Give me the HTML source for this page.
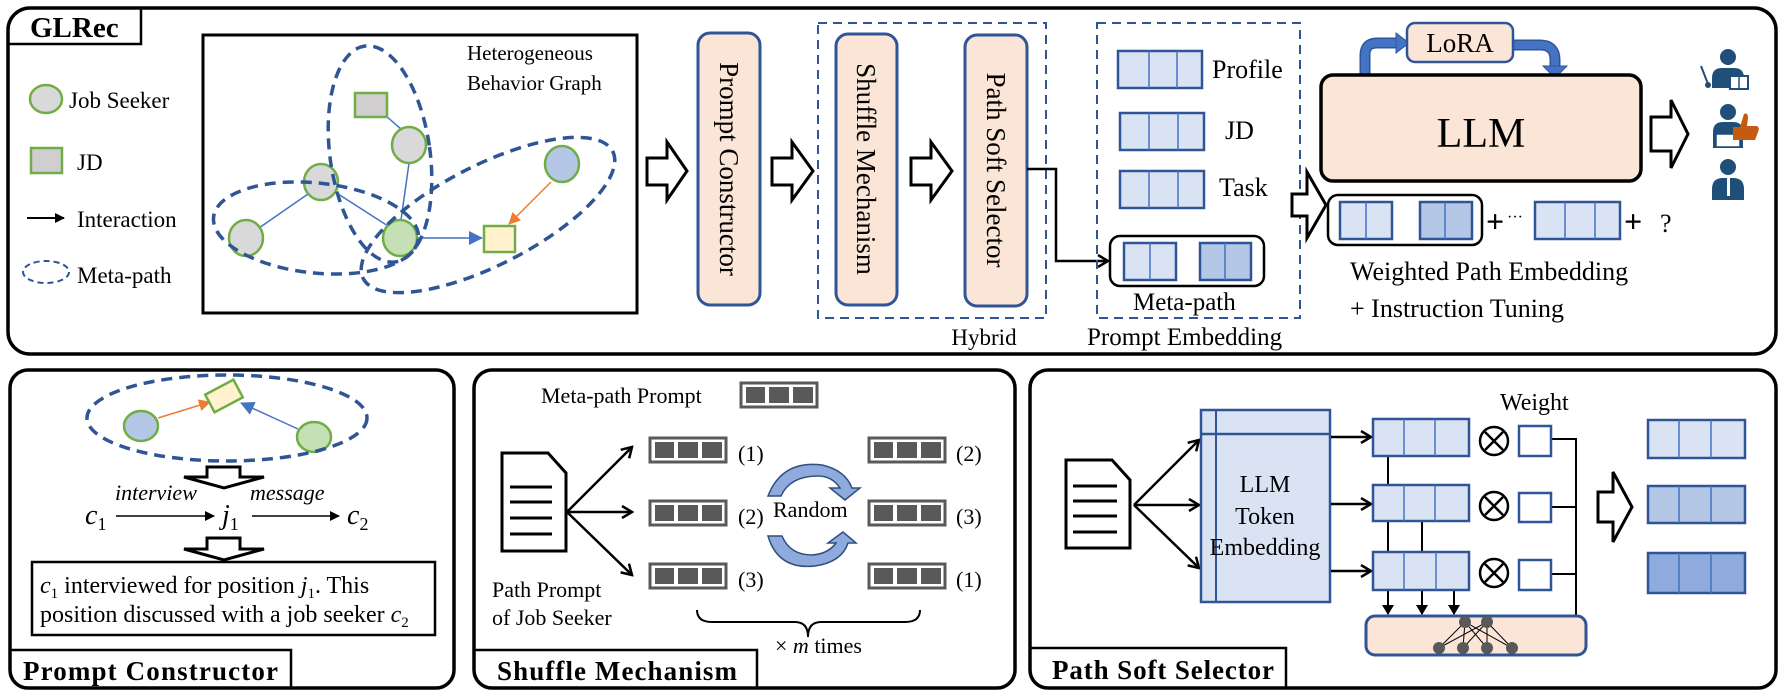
<!DOCTYPE html>
<html><head><meta charset="utf-8"><style>
html,body{margin:0;padding:0;background:#fff;}
svg{display:block;}
text{font-family:"Liberation Serif",serif;fill:#000;}
</style></head><body>
<svg width="1783" height="694" viewBox="0 0 1783 694" xmlns="http://www.w3.org/2000/svg">
<defs>
<marker id="ab" markerWidth="10" markerHeight="10" refX="9" refY="5" orient="auto" markerUnits="userSpaceOnUse"><path d="M0,0 L10,5 L0,10 z" fill="#000"/></marker>
<marker id="ao" markerWidth="12" markerHeight="12" refX="11" refY="6" orient="auto" markerUnits="userSpaceOnUse"><path d="M0,0 L12,6 L0,12 z" fill="#ed7d31"/></marker>
<marker id="abl" markerWidth="14" markerHeight="14" refX="13" refY="7" orient="auto" markerUnits="userSpaceOnUse"><path d="M0,0 L14,7 L0,14 z" fill="#4472c4"/></marker>
<marker id="op" markerWidth="14" markerHeight="14" refX="12" refY="7" orient="auto" markerUnits="userSpaceOnUse"><path d="M2,1 L12,7 L2,13" fill="none" stroke="#000" stroke-width="2.5"/></marker>
<marker id="tri" markerWidth="10" markerHeight="12" refX="9" refY="6" orient="auto" markerUnits="userSpaceOnUse"><path d="M0,0 L10,6 L0,12 z" fill="#000"/></marker>
</defs>

<!-- TOP PANEL -->
<rect x="8" y="8" width="1768" height="346" rx="22" fill="#fff" stroke="#000" stroke-width="3.5"/>
<path d="M8,44 L141,44 L141,8" fill="none" stroke="#000" stroke-width="2.5"/>
<text x="30" y="37" font-size="29" font-weight="bold">GLRec</text>

<!-- legend -->
<ellipse cx="46" cy="99" rx="16" ry="14" fill="#d9d9d9" stroke="#70ad47" stroke-width="2.5"/>
<text x="69" y="108" font-size="23">Job Seeker</text>
<rect x="31" y="148" width="31" height="25" fill="#d0cece" stroke="#70ad47" stroke-width="2.5"/>
<text x="77" y="170" font-size="23">JD</text>
<line x1="27" y1="218" x2="64" y2="218" stroke="#000" stroke-width="2" marker-end="url(#ab)"/>
<text x="77" y="227" font-size="23">Interaction</text>
<ellipse cx="46" cy="272" rx="23" ry="11" fill="none" stroke="#2f5597" stroke-width="2" stroke-dasharray="6,4"/>
<text x="77" y="283" font-size="23">Meta-path</text>

<!-- graph -->
<rect x="203" y="35" width="434" height="278" fill="none" stroke="#000" stroke-width="3"/>
<text x="467" y="60" font-size="21">Heterogeneous</text>
<text x="467" y="90" font-size="21">Behavior Graph</text>
<line x1="385" y1="115" x2="402" y2="130" stroke="#4472c4" stroke-width="1.5"/>
<line x1="409" y1="163" x2="401" y2="220" stroke="#4472c4" stroke-width="1.5"/>
<line x1="308" y1="194" x2="259" y2="228" stroke="#4472c4" stroke-width="1.5"/>
<line x1="335" y1="192" x2="388" y2="226" stroke="#4472c4" stroke-width="1.5"/>
<line x1="418" y1="238" x2="482" y2="238" stroke="#4472c4" stroke-width="1.5" marker-end="url(#abl)"/>
<line x1="551" y1="182" x2="509" y2="224" stroke="#ed7d31" stroke-width="1.5" marker-end="url(#ao)"/>
<rect x="355" y="93" width="32" height="24" fill="#d0cece" stroke="#70ad47" stroke-width="2.5"/>
<ellipse cx="409" cy="145" rx="17" ry="18" fill="#d9d9d9" stroke="#70ad47" stroke-width="2.5"/>
<ellipse cx="321" cy="182" rx="17" ry="18" fill="#d9d9d9" stroke="#70ad47" stroke-width="2.5"/>
<ellipse cx="246" cy="238" rx="17" ry="18" fill="#d9d9d9" stroke="#70ad47" stroke-width="2.5"/>
<ellipse cx="400" cy="238" rx="17" ry="18" fill="#c5e0b4" stroke="#70ad47" stroke-width="2.5"/>
<ellipse cx="562" cy="164" rx="17" ry="18" fill="#b4c7e7" stroke="#70ad47" stroke-width="2.5"/>
<rect x="484" y="226" width="31" height="26" fill="#fff2cc" stroke="#70ad47" stroke-width="2.5"/>
<g fill="none" stroke="#2f5597" stroke-width="3.5" stroke-dasharray="11,7">
<ellipse cx="380" cy="154" rx="50" ry="109" transform="rotate(-8 380 154)"/>
<ellipse cx="316" cy="228" rx="103" ry="45" transform="rotate(6 316 228)"/>
<ellipse cx="488" cy="215" rx="140" ry="50" transform="rotate(-27 488 215)"/>
</g>

<!-- block arrows -->
<g fill="#fff" stroke="#000" stroke-width="3">
<path d="M647,158 L667,158 L667,142 L687,171 L667,200 L667,185 L647,185 Z"/>
<path d="M772,158 L792,158 L792,142 L813,171 L792,200 L792,185 L772,185 Z"/>
<path d="M911,158 L931,158 L931,142 L952,171 L931,200 L931,185 L911,185 Z"/>
</g>

<!-- prompt constructor vertical -->
<rect x="698" y="33" width="62" height="272" rx="12" fill="#fbe5d6" stroke="#2f5597" stroke-width="3"/>
<text transform="translate(729,169) rotate(90)" text-anchor="middle" dominant-baseline="central" font-size="27">Prompt Constructor</text>
<rect x="818" y="23" width="228" height="295" fill="none" stroke="#2f5597" stroke-width="2" stroke-dasharray="9,6"/>
<rect x="836" y="34" width="61" height="271" rx="12" fill="#fbe5d6" stroke="#2f5597" stroke-width="3"/>
<text transform="translate(866,169) rotate(90)" text-anchor="middle" dominant-baseline="central" font-size="27">Shuffle Mechanism</text>
<rect x="965" y="35" width="62" height="271" rx="12" fill="#fbe5d6" stroke="#2f5597" stroke-width="3"/>
<text transform="translate(996,170) rotate(90)" text-anchor="middle" dominant-baseline="central" font-size="27">Path Soft Selector</text>
<text x="984" y="345" font-size="23" text-anchor="middle">Hybrid</text>
<polyline points="1027,169 1056,169 1056,261 1108,261" fill="none" stroke="#000" stroke-width="2.5" marker-end="url(#op)"/>

<!-- prompt embedding -->
<rect x="1097" y="23" width="203" height="295" fill="none" stroke="#2f5597" stroke-width="2" stroke-dasharray="9,6"/>
<g stroke="#2f5597" stroke-width="2.5" fill="#dae3f3">
<rect x="1118" y="51" width="84" height="37"/>
<rect x="1120" y="113" width="84" height="37"/>
<rect x="1120" y="171" width="84" height="37"/>
</g>
<g stroke="#4472c4" stroke-width="1.5">
<line x1="1149" y1="51" x2="1149" y2="88"/><line x1="1177" y1="51" x2="1177" y2="88"/>
<line x1="1149" y1="113" x2="1149" y2="150"/><line x1="1178" y1="113" x2="1178" y2="150"/>
<line x1="1149" y1="171" x2="1149" y2="208"/><line x1="1178" y1="171" x2="1178" y2="208"/>
</g>
<text x="1212" y="78" font-size="26">Profile</text>
<text x="1225" y="139" font-size="26">JD</text>
<text x="1219" y="196" font-size="26">Task</text>
<rect x="1110" y="236" width="154" height="50" rx="10" fill="#fff" stroke="#000" stroke-width="2.5"/>
<rect x="1124" y="243" width="52" height="37" fill="#dae3f3" stroke="#2f5597" stroke-width="2.5"/>
<line x1="1150" y1="243" x2="1150" y2="280" stroke="#4472c4" stroke-width="1.5"/>
<rect x="1200" y="243" width="51" height="37" fill="#b4c7e7" stroke="#2f5597" stroke-width="2.5"/>
<line x1="1225" y1="243" x2="1225" y2="280" stroke="#4472c4" stroke-width="1.5"/>
<text x="1133" y="310" font-size="25">Meta-path</text>
<text x="1087" y="345" font-size="25">Prompt Embedding</text>

<!-- LLM -->
<path d="M1365,76 L1365,55 Q1365,43 1377,43 L1398,43" fill="none" stroke="#2f5597" stroke-width="11"/>
<path d="M1365,76 L1365,55 Q1365,43 1377,43 L1398,43" fill="none" stroke="#4472c4" stroke-width="8"/>
<path d="M1396,33 L1409,43 L1396,53 Z" fill="#4472c4" stroke="#2f5597" stroke-width="1"/>
<path d="M1512,45 L1540,45 Q1555,45 1555,60 L1555,68" fill="none" stroke="#2f5597" stroke-width="11"/>
<path d="M1512,45 L1540,45 Q1555,45 1555,60 L1555,68" fill="none" stroke="#4472c4" stroke-width="8"/>
<path d="M1543,66 L1567,66 L1555,78 Z" fill="#4472c4" stroke="#2f5597" stroke-width="1"/>
<rect x="1407" y="23" width="106" height="39" rx="8" fill="#fbe5d6" stroke="#2f5597" stroke-width="2.5"/>
<text x="1460" y="52" font-size="27" text-anchor="middle">LoRA</text>
<rect x="1321" y="75" width="320" height="106" rx="12" fill="#fbe5d6" stroke="#000" stroke-width="3.5"/>
<text x="1481" y="147" font-size="42" text-anchor="middle">LLM</text>
<path d="M1651,117 L1671,117 L1671,100 L1688,134 L1671,168 L1671,151 L1651,151 Z" fill="#fff" stroke="#000" stroke-width="3"/>
<path d="M1292,194 L1307,194 L1307,172 L1326,205 L1307,238 L1307,216 L1292,216 Z" fill="#fff" stroke="#000" stroke-width="3"/>

<!-- weighted -->
<rect x="1328" y="195" width="154" height="50" rx="10" fill="#fff" stroke="#000" stroke-width="2.5"/>
<rect x="1340" y="202" width="52" height="37" fill="#dae3f3" stroke="#2f5597" stroke-width="2.5"/>
<line x1="1366" y1="202" x2="1366" y2="239" stroke="#4472c4" stroke-width="1.5"/>
<rect x="1420" y="202" width="52" height="37" fill="#b4c7e7" stroke="#2f5597" stroke-width="2.5"/>
<line x1="1445" y1="202" x2="1445" y2="239" stroke="#4472c4" stroke-width="1.5"/>
<text x="1486" y="232" font-size="32" font-weight="bold" font-family="Liberation Sans">+</text>
<text x="1507" y="222" font-size="16">···</text>
<rect x="1535" y="202" width="85" height="37" fill="#dae3f3" stroke="#2f5597" stroke-width="2.5"/>
<line x1="1565" y1="202" x2="1565" y2="239" stroke="#4472c4" stroke-width="1.5"/>
<line x1="1595" y1="202" x2="1595" y2="239" stroke="#4472c4" stroke-width="1.5"/>
<text x="1624" y="232" font-size="32" font-weight="bold" font-family="Liberation Sans">+</text>
<text x="1660" y="232" font-size="26">?</text>
<text x="1350" y="280" font-size="26">Weighted Path Embedding</text>
<text x="1350" y="317" font-size="26">+ Instruction Tuning</text>

<!-- icons -->
<g fill="#1f4e79">
<circle cx="1728" cy="57" r="8"/>
<path d="M1712,88 L1712,78 Q1712,68 1722,68 L1734,68 Q1744,68 1744,78 L1744,88 Z"/>
<circle cx="1728" cy="112" r="8"/>
<path d="M1713,148 L1713,132 Q1713,122 1723,122 L1733,122 Q1743,122 1743,132 L1743,148 Z"/>
<circle cx="1728" cy="167" r="8"/>
<path d="M1712,200 L1712,189 Q1712,178 1723,178 L1733,178 Q1744,178 1744,189 L1744,200 Z"/>
</g>
<rect x="1730" y="76" width="18" height="13" fill="#fff" stroke="#1f4e79" stroke-width="2"/>
<line x1="1739" y1="76" x2="1739" y2="89" stroke="#1f4e79" stroke-width="1.5"/>
<line x1="1701" y1="66" x2="1708" y2="84" stroke="#1f4e79" stroke-width="2"/>
<circle cx="1708" cy="85" r="3" fill="#1f4e79"/>
<rect x="1716" y="134" width="24" height="13" fill="#fff" stroke="#1f4e79" stroke-width="1.5"/>
<path d="M1733,127 L1740,127 L1744,114 Q1748,112 1748,118 L1747,126 L1757,126 Q1760,128 1758,132 L1755,140 L1740,140 L1733,140 Z" fill="#c55a11"/>
<rect x="1727" y="178" width="3" height="18" fill="#fff"/>

<!-- BOTTOM PANEL 1 -->
<rect x="10" y="370" width="444" height="318" rx="18" fill="#fff" stroke="#000" stroke-width="3.5"/>
<path d="M10,650 L291,650 L291,688" fill="none" stroke="#000" stroke-width="2.5"/>
<text x="23" y="680" font-size="27" font-weight="bold" textLength="255">Prompt Constructor</text>
<line x1="158" y1="418" x2="210" y2="402" stroke="#ed7d31" stroke-width="1.5" marker-end="url(#ao)"/>
<line x1="298" y1="429" x2="241" y2="403" stroke="#4472c4" stroke-width="1.5" marker-end="url(#abl)"/>
<ellipse cx="141" cy="426" rx="17" ry="15" fill="#b4c7e7" stroke="#70ad47" stroke-width="2.5"/>
<ellipse cx="314" cy="437" rx="17" ry="15" fill="#c5e0b4" stroke="#70ad47" stroke-width="2.5"/>
<rect x="208" y="386" width="32" height="20" fill="#fff2cc" stroke="#70ad47" stroke-width="2.5" transform="rotate(-28 224 396)"/>
<ellipse cx="227" cy="418" rx="140" ry="43" fill="none" stroke="#2f5597" stroke-width="3.5" stroke-dasharray="11,7"/>
<path d="M207,467 L240,467 L240,477 L264,477 L224,488 L184,477 L207,477 Z" fill="#fff" stroke="#000" stroke-width="3"/>
<text x="115" y="500" font-size="22" font-style="italic">interview</text>
<text x="250" y="500" font-size="22" font-style="italic">message</text>
<text x="85" y="524" font-size="28" font-style="italic">c<tspan font-size="18" dy="6" font-style="normal">1</tspan></text>
<line x1="116" y1="516" x2="214" y2="516" stroke="#000" stroke-width="1.5" marker-end="url(#ab)"/>
<text x="222" y="524" font-size="28" font-style="italic">j<tspan font-size="18" dy="6" font-style="normal">1</tspan></text>
<line x1="252" y1="516" x2="339" y2="516" stroke="#000" stroke-width="1.5" marker-end="url(#ab)"/>
<text x="347" y="524" font-size="28" font-style="italic">c<tspan font-size="18" dy="6" font-style="normal">2</tspan></text>
<path d="M207,538 L240,538 L240,549 L264,549 L224,560 L184,549 L207,549 Z" fill="#fff" stroke="#000" stroke-width="3"/>
<rect x="32" y="562" width="403" height="73" fill="#fff" stroke="#000" stroke-width="2.5"/>
<text x="40" y="593" font-size="24"><tspan font-style="italic">c</tspan><tspan font-size="15" dy="5">1</tspan><tspan dy="-5"> interviewed for position </tspan><tspan font-style="italic">j</tspan><tspan font-size="15" dy="5">1</tspan><tspan dy="-5">. This</tspan></text>
<text x="40" y="622" font-size="24">position discussed with a job seeker <tspan font-style="italic">c</tspan><tspan font-size="15" dy="5">2</tspan></text>

<!-- BOTTOM PANEL 2 -->
<rect x="474" y="370" width="541" height="318" rx="18" fill="#fff" stroke="#000" stroke-width="3.5"/>
<path d="M474,650 L757,650 L757,688" fill="none" stroke="#000" stroke-width="2.5"/>
<text x="497" y="680" font-size="27" font-weight="bold" textLength="240">Shuffle Mechanism</text>
<text x="541" y="403" font-size="22">Meta-path Prompt</text>
<g id="mp">
<rect x="741" y="383" width="76" height="24" fill="#fff" stroke="#595959" stroke-width="3"/>
<rect x="746" y="387" width="19" height="16" fill="#595959"/>
<rect x="769" y="387" width="20" height="16" fill="#595959"/>
<rect x="793" y="387" width="20" height="16" fill="#595959"/>
</g>
<use href="#mp" transform="translate(-91,55)"/>
<use href="#mp" transform="translate(-91,118)"/>
<use href="#mp" transform="translate(-91,181)"/>
<use href="#mp" transform="translate(128,55)"/>
<use href="#mp" transform="translate(128,118)"/>
<use href="#mp" transform="translate(128,181)"/>
<text x="738" y="461" font-size="22">(1)</text>
<text x="738" y="524" font-size="22">(2)</text>
<text x="738" y="587" font-size="22">(3)</text>
<text x="956" y="461" font-size="22">(2)</text>
<text x="956" y="524" font-size="22">(3)</text>
<text x="956" y="587" font-size="22">(1)</text>
<text x="773" y="517" font-size="22">Random</text>
<path d="M502,453 L548,453 L566,473 L566,551 L502,551 Z" fill="#fff" stroke="#000" stroke-width="3"/>
<g stroke="#000" stroke-width="3"><line x1="510" y1="487" x2="552" y2="487"/><line x1="510" y1="502" x2="552" y2="502"/><line x1="510" y1="518" x2="552" y2="518"/><line x1="510" y1="534" x2="552" y2="534"/></g>
<g stroke="#000" stroke-width="2.5" fill="none">
<line x1="567" y1="512" x2="632" y2="447" marker-end="url(#op)"/>
<line x1="567" y1="512" x2="632" y2="512" marker-end="url(#op)"/>
<line x1="567" y1="512" x2="632" y2="575" marker-end="url(#op)"/>
</g>
<path d="M768,496 Q782,460 822,465 Q845,470 852,488 L860,488 L845,500 L830,488 L840,488 Q832,476 818,476 Q790,476 781,496 Z" fill="#8faadc" stroke="#2f4f7f" stroke-width="1.5"/>
<path d="M768,536 Q778,570 815,566 Q842,562 848,543 L856,543 L843,532 L828,543 L836,543 Q828,554 812,555 Q790,555 782,536 Z" fill="#8faadc" stroke="#2f4f7f" stroke-width="1.5"/>
<path d="M697,610 Q697,622 712,622 L795,622 Q808,622 808,637 Q808,622 821,622 L905,622 Q920,622 920,610" fill="none" stroke="#000" stroke-width="2"/>
<text x="775" y="653" font-size="22">× <tspan font-style="italic">m</tspan> times</text>
<text x="492" y="597" font-size="22">Path Prompt</text>
<text x="492" y="625" font-size="22">of Job Seeker</text>

<!-- BOTTOM PANEL 3 -->
<rect x="1030" y="370" width="746" height="318" rx="18" fill="#fff" stroke="#000" stroke-width="3.5"/>
<path d="M1030,648 L1286,648 L1286,688" fill="none" stroke="#000" stroke-width="2.5"/>
<text x="1052" y="679" font-size="27" font-weight="bold" textLength="222">Path Soft Selector</text>
<path d="M1066,460 L1112,460 L1130,480 L1130,548 L1066,548 Z" fill="#fff" stroke="#000" stroke-width="3"/>
<g stroke="#000" stroke-width="3"><line x1="1073" y1="486" x2="1117" y2="486"/><line x1="1073" y1="501" x2="1117" y2="501"/><line x1="1073" y1="516" x2="1117" y2="516"/><line x1="1073" y1="532" x2="1117" y2="532"/></g>
<g stroke="#000" stroke-width="2.5" fill="none">
<line x1="1134" y1="505" x2="1199" y2="440" marker-end="url(#op)"/>
<line x1="1134" y1="505" x2="1199" y2="505" marker-end="url(#op)"/>
<line x1="1134" y1="505" x2="1199" y2="568" marker-end="url(#op)"/>
</g>
<rect x="1201" y="410" width="129" height="192" fill="#dae3f3" stroke="#2f5597" stroke-width="2.5"/>
<line x1="1201" y1="434" x2="1330" y2="434" stroke="#2f5597" stroke-width="2.5"/>
<line x1="1216" y1="410" x2="1216" y2="602" stroke="#2f5597" stroke-width="2"/>
<text x="1265" y="492" font-size="24" text-anchor="middle">LLM</text>
<text x="1265" y="524" font-size="24" text-anchor="middle">Token</text>
<text x="1265" y="555" font-size="24" text-anchor="middle">Embedding</text>
<g stroke="#000" stroke-width="2.5" fill="none">
<line x1="1331" y1="437" x2="1371" y2="437" marker-end="url(#op)"/>
<line x1="1331" y1="504" x2="1371" y2="504" marker-end="url(#op)"/>
<line x1="1331" y1="571" x2="1371" y2="571" marker-end="url(#op)"/>
</g>
<g stroke="#000" stroke-width="2">
<line x1="1388" y1="456" x2="1388" y2="485"/><line x1="1388" y1="521" x2="1388" y2="552"/><line x1="1422" y1="521" x2="1422" y2="552"/>
<line x1="1388" y1="590" x2="1388" y2="614" marker-end="url(#tri)"/>
<line x1="1422" y1="590" x2="1422" y2="614" marker-end="url(#tri)"/>
<line x1="1454" y1="590" x2="1454" y2="614" marker-end="url(#tri)"/>
<polyline points="1551,439 1576,439 1576,616" fill="none"/>
<line x1="1551" y1="507" x2="1576" y2="507"/><line x1="1551" y1="574" x2="1576" y2="574"/>
</g>
<g stroke="#2f5597" stroke-width="2.5" fill="#dae3f3">
<rect x="1373" y="419" width="96" height="37"/><rect x="1373" y="485" width="96" height="36"/><rect x="1373" y="552" width="96" height="38"/>
</g>
<g stroke="#4472c4" stroke-width="1.5">
<line x1="1404" y1="419" x2="1404" y2="456"/><line x1="1435" y1="419" x2="1435" y2="456"/>
<line x1="1404" y1="485" x2="1404" y2="521"/><line x1="1435" y1="485" x2="1435" y2="521"/>
<line x1="1404" y1="552" x2="1404" y2="590"/><line x1="1436" y1="552" x2="1436" y2="590"/>
</g>
<g stroke="#000" stroke-width="2.5" fill="#fff">
<circle cx="1494" cy="441" r="14"/><circle cx="1494" cy="506" r="14"/><circle cx="1494" cy="573" r="14"/>
</g>
<g stroke="#000" stroke-width="2.5">
<path d="M1485,432 L1503,450 M1503,432 L1485,450"/>
<path d="M1485,497 L1503,515 M1503,497 L1485,515"/>
<path d="M1485,564 L1503,582 M1503,564 L1485,582"/>
</g>
<g stroke="#2f5597" stroke-width="2.5" fill="#fff">
<rect x="1519" y="426" width="32" height="30"/><rect x="1519" y="493" width="32" height="29"/><rect x="1519" y="560" width="32" height="30"/>
</g>
<text x="1500" y="410" font-size="24">Weight</text>
<rect x="1366" y="616" width="220" height="39" rx="9" fill="#fbe5d6" stroke="#2f5597" stroke-width="3"/>
<g stroke="#000" stroke-width="1">
<line x1="1465" y1="622" x2="1439" y2="648"/><line x1="1465" y1="622" x2="1463" y2="648"/><line x1="1465" y1="622" x2="1487" y2="648"/><line x1="1465" y1="622" x2="1512" y2="648"/>
<line x1="1487" y1="622" x2="1439" y2="648"/><line x1="1487" y1="622" x2="1463" y2="648"/><line x1="1487" y1="622" x2="1487" y2="648"/><line x1="1487" y1="622" x2="1512" y2="648"/>
</g>
<g fill="#595959">
<circle cx="1465" cy="622" r="6"/><circle cx="1487" cy="622" r="6"/>
<circle cx="1439" cy="648" r="6"/><circle cx="1463" cy="648" r="6"/><circle cx="1487" cy="648" r="6"/><circle cx="1512" cy="648" r="6"/>
</g>
<path d="M1598,492 L1613,492 L1613,472 L1632,507 L1613,542 L1613,522 L1598,522 Z" fill="#fff" stroke="#000" stroke-width="3"/>
<rect x="1648" y="420" width="97" height="38" fill="#dae3f3" stroke="#2f5597" stroke-width="2.5"/>
<rect x="1648" y="486" width="97" height="37" fill="#b4c7e7" stroke="#2f5597" stroke-width="2.5"/>
<rect x="1648" y="553" width="97" height="40" fill="#8faadc" stroke="#2f5597" stroke-width="2.5"/>
<g stroke="#4472c4" stroke-width="1.5">
<line x1="1679" y1="420" x2="1679" y2="458"/><line x1="1711" y1="420" x2="1711" y2="458"/>
<line x1="1679" y1="486" x2="1679" y2="523"/><line x1="1711" y1="486" x2="1711" y2="523"/>
<line x1="1679" y1="553" x2="1679" y2="593"/><line x1="1711" y1="553" x2="1711" y2="593"/>
</g>
</svg>
</body></html>
